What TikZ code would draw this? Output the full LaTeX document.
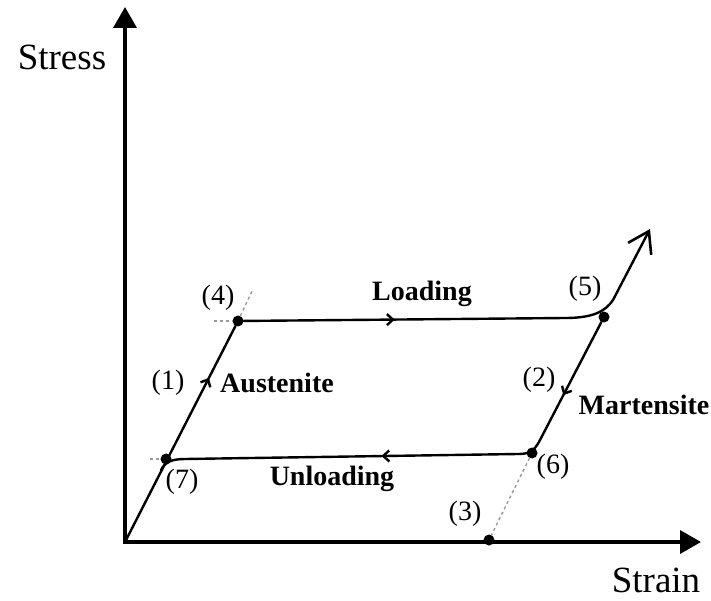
\documentclass[tikz,border=0pt]{standalone}
\usepackage{fontspec}
\setmainfont{Liberation Serif}
\usetikzlibrary{arrows.meta,decorations.markings}

\begin{document}
\begin{tikzpicture}[
  x=1pt, y=-1pt,
  axis/.style={line width=3.6pt, -{Triangle[length=21pt,width=23pt]}},
  hyst/.style={line width=2.4pt, line cap=round, line join=round},
  guide/.style={gray!80, line width=1.4pt, dash pattern=on 3pt off 3pt},
  dot/.style={circle, fill, inner sep=0pt, minimum size=11pt},
  phase/.style={font=\fontsize{28}{30}\selectfont\bfseries},
  tag/.style={font=\fontsize{28}{30}\selectfont},
  axlabel/.style={font=\fontsize{37}{40}\selectfont},
  midtip/.style={postaction={decorate}, decoration={markings,
    mark=at position #1 with {\arrow{Straight Barb[length=6pt,width=11pt]}}}}
]
  \useasboundingbox (0,0) rectangle (711,601);

  % axes
  \coordinate (O) at (125,542);
  \coordinate (ytip) at (125,7);
  \coordinate (xtip) at (701,542);
  \draw[axis] (123.2,542) -- (xtip);
  \draw[axis] (125,543.8) -- (ytip);
  \node[axlabel] (stress) at (62,57) {Stress};
  \node[axlabel] (strain) at (656,580) {Strain};

  % transformation points
  \node[dot] (p3) at (489,540) {};
  \node[dot] (p4) at (238,321) {};
  \node[dot] (p5) at (604,317) {};
  \node[dot] (p6) at (532,453) {};
  \node[dot] (p7) at (166,459) {};

  % bend points of the loop
  \coordinate (l1) at (565,318);
  \coordinate (j5) at (613,300);
  \coordinate (t5) at (650,229);
  \coordinate (u1) at (540,440);
  \coordinate (u2) at (518,454);
  \coordinate (u3) at (185,459);
  \coordinate (u4) at (161,470);

  % dotted guide lines
  \coordinate (g4a) at (253,289);
  \coordinate (g4b) at (214,321);
  \coordinate (g7) at (150,459);
  \draw[guide] (p6) -- (p3);
  \draw[guide] (p4) -- (g4a);
  \draw[guide] (g4b) -- (p4);
  \draw[guide] (g7) -- (p7);

  % loading
  \draw[hyst, midtip=0.76] (O) -- (p4);
  \draw[hyst, midtip=0.47] (p4) -- (l1);
  \draw[hyst, -{Straight Barb[length=20pt,width=26pt,line width=2.6pt]}]
    (l1) .. controls (592,318) and (605,312) .. (j5) -- (t5);

  % unloading
  \draw[hyst, midtip=0.62] (p5) -- (u1);
  \draw[hyst] (u1) .. controls (534,452) and (528,454) .. (u2);
  \draw[hyst, midtip=0.41] (u2) -- (u3);
  \draw[hyst] (u3) .. controls (172,459) and (165,462) .. (u4);

  % labels
  \node[phase] (load) at (422,294) {Loading};
  \node[phase] (unload) at (332,479) {Unloading};
  \node[phase] (aus) at (277,383) {Austenite};
  \node[phase] (mart) at (644,405) {Martensite};
  \node[tag] (t1) at (168,383) {(1)};
  \node[tag] (t2) at (539,380) {(2)};
  \node[tag] (t3) at (465,514) {(3)};
  \node[tag] (t4) at (218,298) {(4)};
  \node[tag] (t5l) at (585,289) {(5)};
  \node[tag] (t6) at (553,467) {(6)};
  \node[tag] (t7) at (182,482) {(7)};
\end{tikzpicture}
\end{document}
